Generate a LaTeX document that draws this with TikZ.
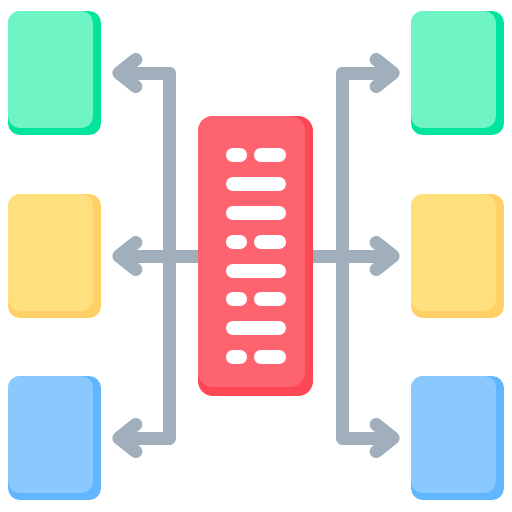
\documentclass[tikz,border=0pt]{standalone}
\usepackage{tikz}
\usetikzlibrary{arrows.meta, positioning}
\definecolor{greenlt}{HTML}{6FF5C4}
\definecolor{greendk}{HTML}{00E49E}
\definecolor{yellowlt}{HTML}{FFE07D}
\definecolor{yellowdk}{HTML}{FFD066}
\definecolor{bluelt}{HTML}{8AC9FE}
\definecolor{bluedk}{HTML}{60B7FF}
\definecolor{redlt}{HTML}{FE646F}
\definecolor{reddk}{HTML}{FD4755}
\definecolor{linkgray}{HTML}{A1AEBB}
\tikzstyle{card}=[shape=rectangle,rounded corners=6.8pt,inner sep=0pt,minimum width=1.86cm,minimum height=2.48cm]
\tikzstyle{cardtop}=[shape=rectangle,rounded corners=6.8pt,inner sep=0pt,minimum width=1.70cm,minimum height=2.34cm,anchor=north west]
\tikzstyle{link}=[draw=linkgray,line width=0.26cm,line join=round,-{Straight Barb[round,length=0.34cm,width=0.54cm]},shorten >=0.22cm]
\tikzstyle{pill}=[draw=white,line width=0.28cm,line cap=round]

\begin{document}
\begin{tikzpicture}[x=0.02cm,y=-0.02cm]
\useasboundingbox[fill=white] (0,0) rectangle (512,512);
%\draw[step=32,gray,very thin] (0,0) grid (512,512);

% left cards
\node[card,fill=greendk] (gl) at (54.5,73){};
\node[cardtop,fill=greenlt] (gl-top) at (gl.north west){};
\node[card,fill=yellowdk] (yl) at (54.5,256){};
\node[cardtop,fill=yellowlt] (yl-top) at (yl.north west){};
\node[card,fill=bluedk] (bl) at (54.5,438){};
\node[cardtop,fill=bluelt] (bl-top) at (bl.north west){};

% right cards
\node[card,fill=greendk] (gr) at (457.5,73){};
\node[cardtop,fill=greenlt] (gr-top) at (gr.north west){};
\node[card,fill=yellowdk] (yr) at (457.5,256){};
\node[cardtop,fill=yellowlt] (yr-top) at (yr.north west){};
\node[card,fill=bluedk] (br) at (457.5,438){};
\node[cardtop,fill=bluelt] (br-top) at (br.north west){};

% record in the middle (placed first, drawn on top later)
\coordinate (mid) at (255.5,256);

% connectors
\coordinate (lt) at (169.5,73);
\coordinate (lb) at (169.5,438);
\coordinate (rt) at (342.5,73);
\coordinate (rb) at (342.5,438);
\draw[link] (lb) -- (lt) -- (gl.east);
\draw[link] (lt) -- (lb) -- (bl.east);
\draw[link] (rb) -- (rt) -- (gr.west);
\draw[link] (rt) -- (rb) -- (br.west);
\draw[link] (mid) -- (yl.east);
\draw[link] (mid) -- (yr.west);

\node[shape=rectangle,rounded corners=8.5pt,inner sep=0pt,minimum width=2.30cm,minimum height=5.60cm,fill=reddk] (rec) at (mid){};
\node[shape=rectangle,rounded corners=8.5pt,inner sep=0pt,minimum width=2.14cm,minimum height=5.42cm,fill=redlt,anchor=north west] (rec-top) at (rec.north west){};

\draw[pill] (233,155) -- (240,155);
\draw[pill] (261,155) -- (279,155);
\draw[pill] (233,184) -- (279,184);
\draw[pill] (233,213) -- (279,213);
\draw[pill] (233,242) -- (240,242);
\draw[pill] (261,242) -- (279,242);
\draw[pill] (233,271) -- (279,271);
\draw[pill] (233,299) -- (240,299);
\draw[pill] (261,299) -- (279,299);
\draw[pill] (233,328) -- (279,328);
\draw[pill] (233,357) -- (240,357);
\draw[pill] (261,357) -- (279,357);

\end{tikzpicture}
\end{document}
